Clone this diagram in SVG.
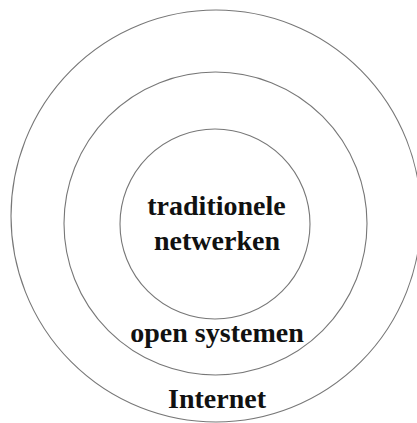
<svg xmlns="http://www.w3.org/2000/svg" width="417" height="423" viewBox="0 0 417 423">
<style>
.ring{fill:none;stroke:#777;stroke-width:1.1}
.lbl{font-family:"Liberation Serif","Times New Roman",serif;font-weight:bold;font-size:28px;fill:#111;text-anchor:middle}
</style>
<rect width="417" height="423" fill="#fff"/>
<g id="internet">
<ellipse class="ring" cx="216" cy="216" rx="205" ry="206"/>
<text class="lbl" x="217" y="408">Internet</text>
</g>
<g id="open-systemen">
<circle class="ring" cx="215.5" cy="223.5" r="151.5"/>
<text class="lbl" x="217" y="341.5">open systemen</text>
</g>
<g id="traditionele-netwerken">
<circle class="ring" cx="215" cy="224" r="95"/>
<text class="lbl" x="216.5" y="215">traditionele</text>
<text class="lbl" x="217" y="250">netwerken</text>
</g>
<g id="connectors"></g>
</svg>
